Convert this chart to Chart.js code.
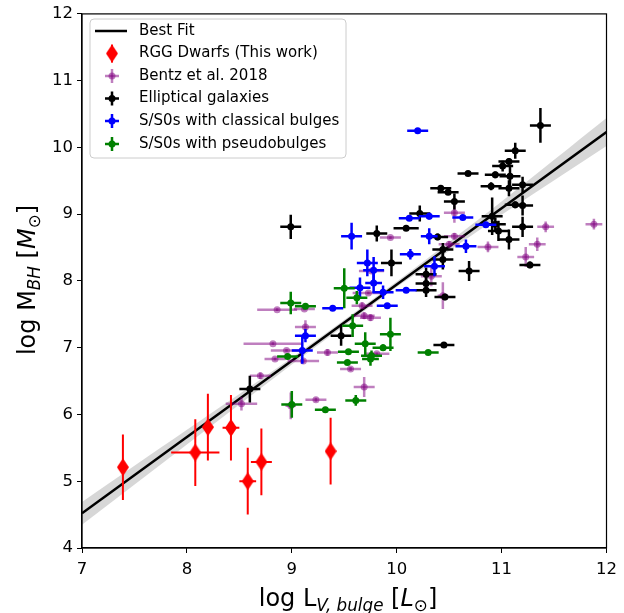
<!DOCTYPE html>
<html>
<head>
<meta charset="utf-8">
<script src="https://cdn.jsdelivr.net/npm/chart.js@4"></script>
<style>
  html, body { margin: 0; padding: 0; background: #fff; }
</style>
</head>
<body>
<canvas id="chart" width="624" height="613"></canvas>
<script>
// Best fit line and its confidence band
const fitX = [7, 12];
const fitY = [4.52, 10.23];
const bandX = [7, 8, 9, 10, 11, 12];
const bandUpper = [4.69, 5.77, 6.85, 7.99, 9.19, 10.44];
const bandLower = [4.35, 5.55, 6.75, 7.91, 8.99, 10.02];

// RGG dwarfs (this work)
const rggX = [7.39, 8.08, 8.20, 8.42, 8.58, 8.71, 9.37];
const rggY = [5.21, 5.43, 5.81, 5.80, 5.00, 5.29, 5.45];
const rggXErr = [0.02, 0.23, 0.05, 0.08, 0.08, 0.10, 0.02];
const rggYErr = [0.49, 0.50, 0.50, 0.49, 0.50, 0.50, 0.50];

// Bentz et al. 2018
const bentzX = [8.86, 9.12, 9.13, 8.82, 8.95, 8.84, 9.11, 8.70, 8.52, 9.23, 9.94, 10.33, 9.67, 9.75, 9.69, 9.34, 9.56, 9.69, 8.99, 9.76, 10.44, 9.81, 10.55, 10.55, 10.50, 10.87, 11.42, 11.88, 11.34, 11.23, 9.73];
const bentzY = [7.57, 7.58, 7.31, 7.06, 6.96, 6.83, 6.80, 6.58, 6.16, 6.22, 8.65, 8.07, 7.63, 7.45, 7.48, 6.93, 6.68, 6.41, 6.13, 8.15, 7.78, 6.91, 9.02, 8.67, 8.55, 8.51, 8.81, 8.85, 8.55, 8.36, 7.82];
const bentzXErr = [0.19, 0.10, 0.10, 0.28, 0.15, 0.10, 0.15, 0.10, 0.15, 0.10, 0.10, 0.10, 0.10, 0.10, 0.10, 0.10, 0.10, 0.10, 0.05, 0.12, 0.05, 0.12, 0.10, 0.10, 0.10, 0.10, 0.08, 0.08, 0.08, 0.08, 0.15];
const bentzYErr = [0.02, 0.02, 0.10, 0.02, 0.02, 0.02, 0.03, 0.05, 0.10, 0.03, 0.02, 0.15, 0.05, 0.05, 0.05, 0.05, 0.03, 0.15, 0.20, 0.02, 0.20, 0.02, 0.15, 0.05, 0.05, 0.08, 0.08, 0.08, 0.10, 0.15, 0.02];

// Elliptical galaxies
const ellX = [8.99, 9.81, 9.95, 10.22, 10.42, 10.49, 10.09, 10.28, 10.28, 10.46, 10.69, 10.44, 10.44, 11.27, 10.45, 9.47, 8.60, 11.13, 10.68, 10.55, 10.39, 10.90, 10.91, 10.94, 11.01, 11.07, 11.08, 11.07, 11.20, 11.13, 11.20, 10.94, 10.97, 11.07, 11.20, 11.37, 10.28];
const ellY = [8.81, 8.71, 8.27, 9.01, 9.39, 9.33, 8.79, 7.96, 7.86, 7.76, 8.15, 8.32, 8.47, 8.24, 7.04, 7.18, 6.38, 9.95, 9.61, 9.19, 8.66, 9.42, 8.97, 9.59, 9.72, 9.79, 9.57, 9.39, 9.44, 9.14, 9.13, 8.85, 8.75, 8.62, 8.81, 10.33, 8.10];
const ellXErr = [0.10, 0.10, 0.10, 0.10, 0.10, 0.10, 0.12, 0.10, 0.10, 0.10, 0.10, 0.10, 0.10, 0.10, 0.10, 0.10, 0.10, 0.10, 0.10, 0.10, 0.10, 0.10, 0.10, 0.10, 0.10, 0.10, 0.10, 0.10, 0.10, 0.10, 0.10, 0.10, 0.10, 0.10, 0.10, 0.10, 0.10];
const ellYErr = [0.18, 0.12, 0.20, 0.12, 0.03, 0.03, 0.03, 0.12, 0.10, 0.05, 0.15, 0.15, 0.10, 0.05, 0.02, 0.15, 0.20, 0.12, 0.03, 0.12, 0.05, 0.06, 0.28, 0.05, 0.08, 0.05, 0.15, 0.12, 0.12, 0.05, 0.15, 0.10, 0.15, 0.15, 0.15, 0.26, 0.10];

// S/S0s with classical bulges
const classX = [10.20, 9.57, 10.12, 10.31, 10.13, 10.31, 9.72, 9.78, 9.65, 9.78, 9.87, 10.09, 9.91, 9.39, 9.13, 9.10, 10.36, 10.63, 10.85, 10.66];
const classY = [10.25, 8.67, 8.94, 8.97, 8.40, 8.67, 8.27, 8.16, 7.90, 7.97, 7.83, 7.86, 7.63, 7.59, 7.18, 6.96, 8.22, 8.95, 8.84, 8.52];
const classXErr = [0.10, 0.10, 0.10, 0.10, 0.10, 0.08, 0.10, 0.10, 0.10, 0.08, 0.10, 0.10, 0.10, 0.10, 0.10, 0.10, 0.10, 0.10, 0.10, 0.10];
const classYErr = [0.02, 0.20, 0.02, 0.05, 0.08, 0.12, 0.20, 0.20, 0.15, 0.15, 0.10, 0.02, 0.03, 0.02, 0.10, 0.20, 0.15, 0.02, 0.03, 0.10];

// S/S0s with pseudobulges
const pseudoX = [9.50, 9.62, 8.99, 9.13, 9.58, 9.94, 9.70, 9.87, 9.54, 9.76, 9.75, 9.53, 10.30, 9.00, 9.32, 9.61, 8.96];
const pseudoY = [7.89, 7.75, 7.67, 7.62, 7.33, 7.20, 7.06, 7.00, 6.94, 6.88, 6.83, 6.78, 6.93, 6.15, 6.07, 6.21, 6.87];
const pseudoXErr = [0.10, 0.10, 0.10, 0.10, 0.10, 0.10, 0.10, 0.10, 0.10, 0.10, 0.08, 0.10, 0.10, 0.10, 0.10, 0.10, 0.10];
const pseudoYErr = [0.30, 0.10, 0.17, 0.02, 0.17, 0.25, 0.17, 0.05, 0.02, 0.08, 0.10, 0.02, 0.02, 0.20, 0.02, 0.08, 0.02];

const FONT = 'DejaVu Sans';

function toPoints(xs, ys) {
    return xs.map((v, i) => ({ x: v, y: ys[i] }));
}

// thin red diamond like matplotlib's 'd' marker
function thinDiamond(w, h, color) {
    const c = document.createElement('canvas');
    c.width = w; c.height = h;
    const g = c.getContext('2d');
    g.fillStyle = color;
    g.beginPath();
    g.moveTo(w / 2, 0);
    g.lineTo(w, h / 2);
    g.lineTo(w / 2, h);
    g.lineTo(0, h / 2);
    g.closePath();
    g.fill();
    return c;
}
const diamond = thinDiamond(12, 18, '#ff0000');

function errSeries(label, xs, ys, xe, ye, color, barColor, barWidth, order, style) {
    return {
        type: 'scatter',
        label: label,
        data: toPoints(xs, ys),
        xErr: xe,
        yErr: ye,
        barColor: barColor,
        barWidth: barWidth,
        pointStyle: style || 'circle',
        pointRadius: 3.5,
        pointBorderWidth: 0,
        backgroundColor: color,
        borderColor: color,
        order: order
    };
}

// error bars are drawn just before each dataset's markers
const errorBars = {
    id: 'errorBars',
    beforeDatasetDraw(chart, args) {
        const ds = chart.data.datasets[args.index];
        if (!ds.xErr) return;
        const { ctx, chartArea, scales: { x, y } } = chart;
        ctx.save();
        ctx.beginPath();
        ctx.rect(chartArea.left, chartArea.top, chartArea.right - chartArea.left, chartArea.bottom - chartArea.top);
        ctx.clip();
        ctx.strokeStyle = ds.barColor;
        ctx.lineWidth = ds.barWidth;
        ds.data.forEach((p, i) => {
            const px = x.getPixelForValue(p.x);
            const py = y.getPixelForValue(p.y);
            ctx.beginPath();
            ctx.moveTo(x.getPixelForValue(p.x - ds.xErr[i]), py);
            ctx.lineTo(x.getPixelForValue(p.x + ds.xErr[i]), py);
            ctx.stroke();
            ctx.beginPath();
            ctx.moveTo(px, y.getPixelForValue(p.y - ds.yErr[i]));
            ctx.lineTo(px, y.getPixelForValue(p.y + ds.yErr[i]));
            ctx.stroke();
        });
        ctx.restore();
    }
};

// mixed text with italics and subscripts, like matplotlib mathtext
function richParts(ctx, parts, size) {
    return parts.map(([t, st]) => {
        const sub = st.indexOf('s') >= 0;
        const ital = st.indexOf('i') >= 0;
        const fs = sub ? size * 0.7 : size;
        const font = (ital ? 'italic ' : '') + fs + 'px "' + FONT + '"';
        ctx.font = font;
        return { t, font, sub, w: ctx.measureText(t).width };
    });
}
function drawRich(ctx, parts, cx, baseY, size) {
    const segs = richParts(ctx, parts, size);
    const total = segs.reduce((a, s) => a + s.w, 0);
    let x = cx - total / 2;
    ctx.textBaseline = 'alphabetic';
    ctx.textAlign = 'left';
    segs.forEach(s => {
        ctx.font = s.font;
        ctx.fillText(s.t, x, baseY + (s.sub ? size * 0.22 : 0));
        x += s.w;
    });
}

const decorations = {
    id: 'decorations',
    afterDraw(chart) {
        const { ctx, chartArea: a } = chart;
        ctx.save();
        // frame
        ctx.strokeStyle = '#000';
        ctx.lineWidth = 1.2;
        ctx.strokeRect(a.left, a.top, a.right - a.left, a.bottom - a.top);

        // axis titles
        ctx.fillStyle = '#000';
        drawRich(ctx, [['log L', ''], ['V, bulge', 'si'], [' [', ''], ['L', 'i'], ['\u2299', 's'], [']', '']], 348, 606, 24);
        ctx.save();
        ctx.translate(35, 280);
        ctx.rotate(-Math.PI / 2);
        drawRich(ctx, [['log M', ''], ['BH', 'si'], [' [', ''], ['M', 'i'], ['\u2299', 's'], [']', '']], 0, 0, 24);
        ctx.restore();

        // legend box
        const lx = 90, ly = 19, lw = 256, lh = 139, r = 4;
        ctx.beginPath();
        ctx.moveTo(lx + r, ly);
        ctx.arcTo(lx + lw, ly, lx + lw, ly + lh, r);
        ctx.arcTo(lx + lw, ly + lh, lx, ly + lh, r);
        ctx.arcTo(lx, ly + lh, lx, ly, r);
        ctx.arcTo(lx, ly, lx + lw, ly, r);
        ctx.closePath();
        ctx.fillStyle = 'rgba(255,255,255,0.8)';
        ctx.fill();
        ctx.strokeStyle = '#cccccc';
        ctx.lineWidth = 1;
        ctx.stroke();

        const items = [
            { label: 'Best Fit', kind: 'line' },
            { label: 'RGG Dwarfs (This work)', kind: 'diamond' },
            { label: 'Bentz et al. 2018', kind: 'cross', color: 'rgba(128,0,128,0.5)' },
            { label: 'Elliptical galaxies', kind: 'cross', color: '#000000' },
            { label: 'S/S0s with classical bulges', kind: 'cross', color: '#0000ff' },
            { label: 'S/S0s with pseudobulges', kind: 'cross', color: '#008000' }
        ];
        const rowY = [31, 53.5, 76, 98.5, 121, 144];
        const sx = 112;
        items.forEach((it, i) => {
            const yy = rowY[i];
            if (it.kind === 'line') {
                ctx.strokeStyle = '#000';
                ctx.lineWidth = 2.5;
                ctx.beginPath();
                ctx.moveTo(95, yy);
                ctx.lineTo(127, yy);
                ctx.stroke();
            } else if (it.kind === 'diamond') {
                ctx.strokeStyle = '#ff0000';
                ctx.lineWidth = 2;
                ctx.beginPath();
                ctx.moveTo(sx, yy - 9);
                ctx.lineTo(sx, yy + 9);
                ctx.stroke();
                ctx.drawImage(diamond, sx - 6, yy - 9);
            } else {
                ctx.strokeStyle = it.color;
                ctx.lineWidth = 2.5;
                ctx.beginPath();
                ctx.moveTo(sx - 7, yy);
                ctx.lineTo(sx + 7, yy);
                ctx.stroke();
                ctx.beginPath();
                ctx.moveTo(sx, yy - 7);
                ctx.lineTo(sx, yy + 7);
                ctx.stroke();
                ctx.fillStyle = it.color;
                ctx.beginPath();
                ctx.arc(sx, yy, 3.5, 0, Math.PI * 2);
                ctx.fill();
            }
            ctx.fillStyle = '#000';
            ctx.font = '15px "' + FONT + '"';
            ctx.textBaseline = 'middle';
            ctx.textAlign = 'left';
            ctx.fillText(it.label, 139, yy);
        });
        ctx.restore();
    }
};

const ctx = document.getElementById('chart').getContext('2d');
const chart = new Chart(ctx, {
    type: 'scatter',
    data: {
        datasets: [
            {
                type: 'line',
                label: 'band lower',
                data: toPoints(bandX, bandLower),
                borderWidth: 0,
                pointRadius: 0,
                fill: false,
                order: 21
            },
            {
                type: 'line',
                label: 'band upper',
                data: toPoints(bandX, bandUpper),
                borderWidth: 0,
                pointRadius: 0,
                backgroundColor: 'rgba(140,140,140,0.35)',
                fill: '-1',
                tension: 0.3,
                order: 20
            },
            {
                type: 'line',
                label: 'Best Fit',
                data: toPoints(fitX, fitY),
                borderColor: '#000000',
                borderWidth: 2.5,
                pointRadius: 0,
                fill: false,
                order: 15
            },
            errSeries('RGG Dwarfs (This work)', rggX, rggY, rggXErr, rggYErr, '#ff0000', '#ff0000', 2, 1, diamond),
            errSeries('Bentz et al. 2018', bentzX, bentzY, bentzXErr, bentzYErr, 'rgba(128,0,128,0.5)', 'rgba(128,0,128,0.5)', 2.5, 6),
            errSeries('Elliptical galaxies', ellX, ellY, ellXErr, ellYErr, '#000000', '#000000', 2.5, 5),
            errSeries('S/S0s with classical bulges', classX, classY, classXErr, classYErr, '#0000ff', '#0000ff', 2.5, 4),
            errSeries('S/S0s with pseudobulges', pseudoX, pseudoY, pseudoXErr, pseudoYErr, '#008000', '#008000', 2.5, 3)
        ]
    },
    options: {
        responsive: false,
        animation: false,
        layout: { padding: { left: 0, top: 12, right: 12, bottom: 0 } },
        plugins: {
            legend: { display: false },
            tooltip: { enabled: false }
        },
        scales: {
            x: {
                type: 'linear',
                min: 7,
                max: 12,
                ticks: { stepSize: 1, color: '#000', padding: 7, font: { family: FONT, size: 16.5 } },
                grid: { drawOnChartArea: false, drawTicks: true, tickLength: 5, color: '#000' },
                border: { color: '#000', width: 1.2 },
                afterFit(s) { s.height = 65; }
            },
            y: {
                type: 'linear',
                min: 4,
                max: 12,
                ticks: { stepSize: 1, color: '#000', padding: 4, font: { family: FONT, size: 16.5 } },
                grid: { drawOnChartArea: false, drawTicks: true, tickLength: 5, color: '#000' },
                border: { color: '#000', width: 1.2 },
                afterFit(s) { s.width = 82; }
            }
        }
    },
    plugins: [errorBars, decorations]
});
</script>
</body>
</html>
